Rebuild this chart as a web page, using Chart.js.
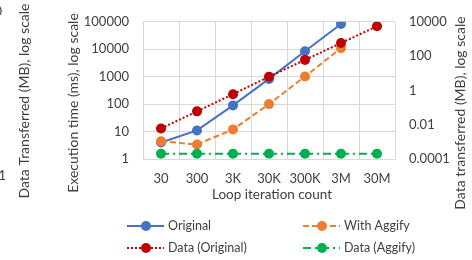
<!DOCTYPE html>
<html>
<head>
<meta charset="utf-8">
<script src="https://cdn.jsdelivr.net/npm/chart.js@4"></script>
<style>
    html, body { margin: 0; padding: 0; background: #fff; }
    #box { width: 472px; height: 260px; }
</style>
</head>
<body>
<div id="box"><canvas id="chart" width="472" height="260"></canvas></div>
<script>
// data
const loopCounts = ['30', '300', '3K', '30K', '300K', '3M', '30M'];
const timeOriginal = [4, 11, 90, 830, 8500, 83000, null];
const timeAggify = [4.4, 3.4, 12, 100, 1020, 11000, null];
const dataOriginal = [0.006, 0.06, 0.6, 6.3, 60, 580, 5500];
const dataAggify = [0.0002, 0.0002, 0.0002, 0.0002, 0.0002, 0.0002, 0.0002];
const timeTicks = [1, 10, 100, 1000, 10000, 100000];
const dataTicks = [0.0001, 0.01, 1, 100, 10000];

const FONT = 'Lato';
const TEXT = '#404040';
const GRID = '#d9d9d9';

const legendItems = [
    { ds: 0, x: 127, y: 226 },
    { ds: 1, x: 303, y: 226 },
    { ds: 2, x: 127, y: 248 },
    { ds: 3, x: 303, y: 248 }
];

// titles + legend drawn by hand so they land where excel put them
const extrasPlugin = {
    id: 'extras',
    afterDraw(chart) {
        let ctx = chart.ctx;
        ctx.save();
        ctx.fillStyle = TEXT;
        ctx.textBaseline = 'middle';

        // cut-off bits of the neighbouring chart
        ctx.font = `13px ${FONT}`;
        ctx.textAlign = 'right';
        ctx.fillText('10000', 2, 12);
        ctx.fillText('0.0001', 6, 176);

        ctx.font = `13.5px ${FONT}`;
        ctx.textAlign = 'center';
        ctx.fillText('Loop iteration count', 272, 195);

        let rotated = (text, x, y) => {
            ctx.save();
            ctx.translate(x, y);
            ctx.rotate(-Math.PI / 2);
            ctx.fillText(text, 0, 0);
            ctx.restore();
        };
        ctx.font = `14px ${FONT}`;
        rotated('Data Transferred (MB), log scale', 24, 101);
        rotated('Execution time (ms), log scale', 73, 103);
        rotated('Data transferred (MB), log scale', 460, 113);

        // legend
        ctx.font = `12.5px ${FONT}`;
        ctx.textAlign = 'left';
        for (let i = 0; i < legendItems.length; i++) {
            let it = legendItems[i];
            let ds = chart.data.datasets[it.ds];
            ctx.save();
            ctx.strokeStyle = ds.borderColor;
            ctx.lineWidth = ds.borderWidth;
            ctx.setLineDash(ds.borderDash || []);
            ctx.beginPath();
            ctx.moveTo(it.x, it.y);
            ctx.lineTo(it.x + 37, it.y);
            ctx.stroke();
            ctx.setLineDash([]);
            ctx.fillStyle = ds.backgroundColor;
            ctx.beginPath();
            ctx.arc(it.x + 19, it.y, 5, 0, Math.PI * 2);
            ctx.fill();
            ctx.restore();
            ctx.fillText(ds.label, it.x + 41, it.y);
        }
        ctx.restore();
    }
};

let datasets = [
    { label: 'Original', data: timeOriginal, yAxisID: 'y', borderColor: '#4472C4', backgroundColor: '#4472C4', borderWidth: 2, order: 4 },
    { label: 'With Aggify', data: timeAggify, yAxisID: 'y', borderColor: '#ED7D31', backgroundColor: '#ED7D31', borderWidth: 2, borderDash: [6, 3], order: 3 },
    { label: 'Data (Original)', data: dataOriginal, yAxisID: 'y2', borderColor: '#C00000', backgroundColor: '#C00000', borderWidth: 2, borderDash: [2, 2], order: 2 },
    { label: 'Data (Aggify)', data: dataAggify, yAxisID: 'y2', borderColor: '#00B050', backgroundColor: '#00B050', borderWidth: 2, borderDash: [8, 4, 2, 4], order: 1 }
];

for (let i = 0; i < datasets.length; i++) {
    datasets[i].pointRadius = 5;
    datasets[i].pointHoverRadius = 5;
    datasets[i].pointBorderWidth = 0;
    datasets[i].pointBorderColor = datasets[i].backgroundColor;
    datasets[i].tension = 0;
    datasets[i].spanGaps = false;
}

new Chart(document.getElementById('chart').getContext('2d'), {
    type: 'line',
    data: { labels: loopCounts, datasets: datasets },
    options: {
        responsive: false,
        animation: false,
        devicePixelRatio: 1,
        layout: { padding: { top: 15, left: 0, right: 0, bottom: 0 } },
        plugins: {
            legend: { display: false },
            tooltip: { enabled: false }
        },
        scales: {
            x: {
                offset: true,
                grid: { offset: true, color: GRID, drawTicks: false },
                border: { color: GRID },
                ticks: { color: TEXT, font: { family: FONT, size: 13 }, padding: 12, maxRotation: 0 },
                afterFit: (scale) => { scale.height = 101; }
            },
            y: {
                type: 'logarithmic',
                position: 'left',
                min: 1,
                max: 100000,
                grid: { color: GRID, drawTicks: false },
                border: { color: GRID },
                ticks: { color: TEXT, font: { family: FONT, size: 13 }, padding: 14, callback: (v) => String(v) },
                afterBuildTicks: (scale) => { scale.ticks = timeTicks.map(v => ({ value: v })); },
                afterFit: (scale) => { scale.width = 143; }
            },
            y2: {
                type: 'logarithmic',
                position: 'right',
                min: 0.0001,
                max: 10000,
                grid: { display: false, drawTicks: false },
                border: { display: false },
                ticks: { color: TEXT, font: { family: FONT, size: 13 }, padding: 14, callback: (v) => String(v) },
                afterBuildTicks: (scale) => { scale.ticks = dataTicks.map(v => ({ value: v })); },
                afterFit: (scale) => { scale.width = 77; }
            }
        }
    },
    plugins: [extrasPlugin]
});
</script>
</body>
</html>
